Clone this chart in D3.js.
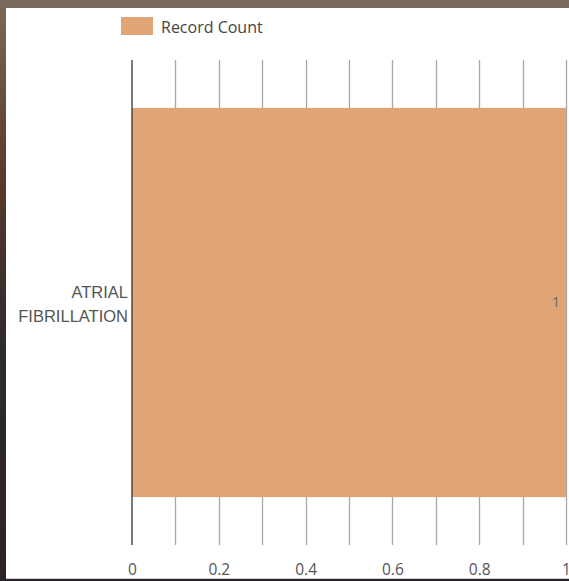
<!DOCTYPE html>
<html><head><meta charset="utf-8">
<script src="https://cdn.jsdelivr.net/npm/d3@7"></script>
<style>
html,body{margin:0;padding:0;background:#3a2e2c;overflow:hidden;}
svg{display:block;}
</style></head>
<body>
<script>
const categories = ["ATRIAL FIBRILLATION"];
const categoryLines = [["ATRIAL", "FIBRILLATION"]];
const seriesName = "Record Count";
const recordCount = [1];
const tickValues = [0, 0.2, 0.4, 0.6, 0.8, 1];
const gridValues = [0, 0.1, 0.2, 0.3, 0.4, 0.5, 0.6, 0.7, 0.8, 0.9, 1];

(function(){
const W = 569, H = 581;
const svg = d3.select("body").append("svg").attr("width", W).attr("height", H);

// surrounding backdrop
const defs = svg.append("defs");
const g1 = defs.append("linearGradient").attr("id","bg").attr("x1",0).attr("y1",0).attr("x2",0).attr("y2",1);
g1.append("stop").attr("offset","0").attr("stop-color","#7b6a5c");
g1.append("stop").attr("offset","0.3").attr("stop-color","#5a3a2c");
g1.append("stop").attr("offset","0.6").attr("stop-color","#2e2a30");
g1.append("stop").attr("offset","1").attr("stop-color","#2a2228");
svg.append("rect").attr("width", W).attr("height", H).attr("fill", "url(#bg)");
svg.append("rect").attr("x",0).attr("y",0).attr("width",W).attr("height",8).attr("fill","#7a6a5d");
// white panel
svg.append("rect").attr("x", 6).attr("y", 8).attr("width", W - 6).attr("height", H - 10).attr("fill", "#ffffff");
svg.append("line").attr("x1",6).attr("x2",W).attr("y1",H-2.5).attr("y2",H-2.5).attr("stroke","#d0d0d0");

const mLeft = 132, mRight = 566, mTop = 60, mBottom = 545;
const x = d3.scaleLinear().domain([0, 1]).range([mLeft, mRight]);
const y = d3.scaleBand().domain(categories).range([mTop, mBottom]).paddingInner(0).paddingOuter(0.123);

// gridlines
svg.append("g").selectAll("line").data(gridValues.slice(1)).join("line")
  .attr("x1", d => Math.round(x(d)) + 0.5).attr("x2", d => Math.round(x(d)) + 0.5)
  .attr("y1", mTop).attr("y2", mBottom)
  .attr("stroke", "#a8a8a8").attr("stroke-width", 1.3);

// bars
svg.append("g").selectAll("rect").data(recordCount).join("rect")
  .attr("x", x(0)).attr("y", (d, i) => y(categories[i]))
  .attr("width", d => x(d) - x(0)).attr("height", y.bandwidth())
  .attr("fill", "#dfa577");

// zero axis line
svg.append("line").attr("x1", x(0)).attr("x2", x(0)).attr("y1", mTop).attr("y2", mBottom)
  .attr("stroke", "#333333").attr("stroke-width", 1.3);

// x tick labels
const xAxis = d3.axisBottom(x).tickValues(tickValues).tickSize(0).tickFormat(d3.format("~g"));
const xa = svg.append("g").attr("transform", `translate(0,${mBottom + 12})`).call(xAxis);
xa.select(".domain").remove();
xa.selectAll("text").attr("font-family", "'Open Sans', sans-serif").attr("font-size", 15.5)
  .attr("fill", "#555").attr("dy", "0.95em");

// category labels
const yl = svg.append("g");
categories.forEach((c, i) => {
  const cy = y(c) + y.bandwidth() / 2;
  const t = yl.append("text").attr("x", mLeft - 4).attr("y", cy - 10.5)
    .attr("text-anchor", "end").attr("font-family", "'Liberation Sans', Arial, sans-serif")
    .attr("font-size", 16.5).attr("fill", "#555");
  categoryLines[i].forEach((ln, k) => {
    t.append("tspan").attr("x", mLeft - 4).attr("dy", k === 0 ? "0.35em" : 24).text(ln);
  });
});

// value labels
svg.append("g").selectAll("text").data(recordCount).join("text")
  .attr("x", d => x(d) - 6).attr("y", (d, i) => y(categories[i]) + y.bandwidth() / 2)
  .attr("dy", "0.35em").attr("text-anchor", "end")
  .attr("font-family", "'Open Sans', sans-serif").attr("font-size", 14).attr("fill", "#666")
  .text(d => d);

// legend
const lg = svg.append("g");
lg.append("rect").attr("x", 121).attr("y", 17).attr("width", 32).attr("height", 18).attr("fill", "#dfa577");
lg.append("text").attr("x", 161).attr("y", 27).attr("dy", "0.35em")
  .attr("font-family", "'Open Sans', sans-serif").attr("font-size", 16).attr("fill", "#444")
  .text(seriesName);
})();
</script>
</body></html>
